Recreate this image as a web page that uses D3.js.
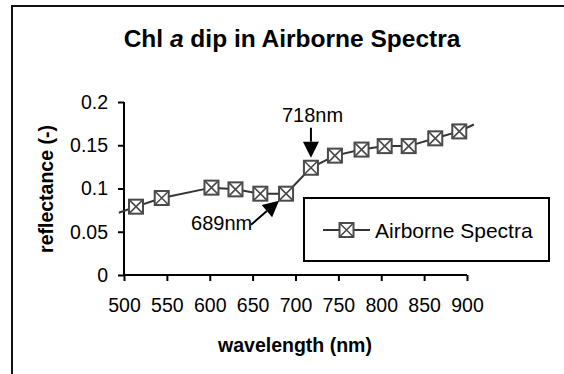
<!DOCTYPE html>
<html>
<head>
<meta charset="utf-8">
<script src="https://cdn.jsdelivr.net/npm/d3@7"></script>
<style>
  body { margin: 0; background: #fff; }
  svg { display: block; font-family: "Liberation Sans", Arial, sans-serif; }
</style>
</head>
<body>
<svg width="564" height="374"></svg>
<script>
// Airborne spectra
var wavelengths = [514, 544, 602, 630, 659, 689, 718, 746, 777, 804, 832, 863, 891];
var reflectance = [0.079, 0.089, 0.101, 0.099, 0.094, 0.094, 0.124, 0.138, 0.145, 0.149, 0.149, 0.158, 0.166];
// the connecting line runs a little past the first and last point
var lineStart = [494, 0.072];
var lineEnd = [908, 0.174];
var xTicks = [500, 550, 600, 650, 700, 750, 800, 850, 900];
var yTicks = [0, 0.05, 0.1, 0.15, 0.2];
var seriesName = "Airborne Spectra";

var svg = d3.select("svg");

// outer chart border (runs off the right / bottom edge)
svg.append("rect")
  .attr("x", 12).attr("y", 6)
  .attr("width", 620).attr("height", 420)
  .attr("fill", "none").attr("stroke", "#111").attr("stroke-width", 2);

var x = d3.scaleLinear().domain([500, 900]).range([124, 467]);
var y = d3.scaleLinear().domain([0, 0.2]).range([275, 102]);

// title
var title = svg.append("text")
  .attr("x", 292).attr("y", 47)
  .attr("text-anchor", "middle")
  .attr("font-size", 24.5).attr("font-weight", "bold");
title.append("tspan").text("Chl ");
title.append("tspan").attr("font-style", "italic").text("a");
title.append("tspan").text(" dip in Airborne Spectra");

// axes
var xAxis = svg.append("g")
  .attr("transform", "translate(0,275)")
  .call(d3.axisBottom(x).tickValues(xTicks).tickSize(6).tickPadding(17).tickFormat(d3.format("d")));
var yAxis = svg.append("g")
  .attr("transform", "translate(124,0)")
  .call(d3.axisLeft(y).tickValues(yTicks).tickSize(6).tickPadding(10).tickFormat(function(d) { return d === 0 ? "0" : String(d); }));

[xAxis, yAxis].forEach(function(a) {
  a.select(".domain").attr("stroke", "#000").attr("stroke-width", 2);
  a.selectAll(".tick line").attr("stroke", "#000").attr("stroke-width", 2);
  a.selectAll(".tick text").attr("font-size", 19.5).attr("fill", "#000")
    .attr("font-family", "'Liberation Sans', Arial, sans-serif");
});
// plain axis lines, no outer tick ends
xAxis.select(".domain").attr("d", "M" + x(500) + ",0H" + x(900));
yAxis.select(".domain").attr("d", "M0," + y(0.2) + "V" + y(0));

// axis titles
svg.append("text")
  .attr("x", 295).attr("y", 352)
  .attr("text-anchor", "middle")
  .attr("font-size", 19.5).attr("font-weight", "bold")
  .text("wavelength (nm)");
svg.append("text")
  .attr("transform", "translate(53,189) rotate(-90)")
  .attr("text-anchor", "middle")
  .attr("font-size", 19.5).attr("font-weight", "bold")
  .text("reflectance (-)");

// series line
var pts = [lineStart].concat(wavelengths.map(function(w, i) { return [w, reflectance[i]]; })).concat([lineEnd]);
var line = d3.line()
  .x(function(d) { return x(d[0]); })
  .y(function(d) { return y(d[1]); });

svg.append("path")
  .datum(pts)
  .attr("fill", "none")
  .attr("stroke", "#333")
  .attr("stroke-width", 2)
  .attr("d", line);

// boxed-x markers
function marker(g, cx, cy) {
  var s = 7;
  g.append("rect")
    .attr("x", cx - s).attr("y", cy - s)
    .attr("width", 2 * s).attr("height", 2 * s)
    .attr("fill", "#fff").attr("stroke", "#4a4a4a").attr("stroke-width", 2);
  g.append("path")
    .attr("d", "M" + (cx - s) + "," + (cy - s) + "L" + (cx + s) + "," + (cy + s) +
               "M" + (cx + s) + "," + (cy - s) + "L" + (cx - s) + "," + (cy + s))
    .attr("stroke", "#4a4a4a").attr("stroke-width", 1.6);
}
var mg = svg.append("g");
wavelengths.forEach(function(w, i) { marker(mg, x(w), y(reflectance[i])); });

// annotations
function arrow(x1, y1, x2, y2) {
  var ang = Math.atan2(y2 - y1, x2 - x1), len = 16, half = 8;
  var bx = x2 - len * Math.cos(ang), by = y2 - len * Math.sin(ang);
  svg.append("line")
    .attr("x1", x1).attr("y1", y1).attr("x2", bx).attr("y2", by)
    .attr("stroke", "#000").attr("stroke-width", 2);
  svg.append("path")
    .attr("d", "M" + x2 + "," + y2 +
      "L" + (bx + half * Math.sin(ang)) + "," + (by - half * Math.cos(ang)) +
      "L" + (bx - half * Math.sin(ang)) + "," + (by + half * Math.cos(ang)) + "Z")
    .attr("fill", "#000");
}
var i718 = wavelengths.indexOf(718), i689 = wavelengths.indexOf(689);
var ax = x(718), ay = y(reflectance[i718]);
arrow(ax, ay - 40, ax, ay - 10);
svg.append("text")
  .attr("x", ax - 29).attr("y", ay - 46)
  .attr("font-size", 20).text("718nm");

var bx = x(689), by = y(reflectance[i689]);
arrow(bx - 35, by + 31, bx - 7, by + 7);
svg.append("text")
  .attr("x", bx - 95).attr("y", by + 36)
  .attr("font-size", 20).text("689nm");

// legend
var lg = svg.append("g");
lg.append("rect")
  .attr("x", 304).attr("y", 198).attr("width", 245).attr("height", 63)
  .attr("fill", "#fff").attr("stroke", "#000").attr("stroke-width", 2);
lg.append("line")
  .attr("x1", 323).attr("x2", 370).attr("y1", 230).attr("y2", 230)
  .attr("stroke", "#333").attr("stroke-width", 2);
marker(lg, 346.5, 230);
lg.append("text")
  .attr("x", 375).attr("y", 238)
  .attr("font-size", 21).text(seriesName);
</script>
</body>
</html>
